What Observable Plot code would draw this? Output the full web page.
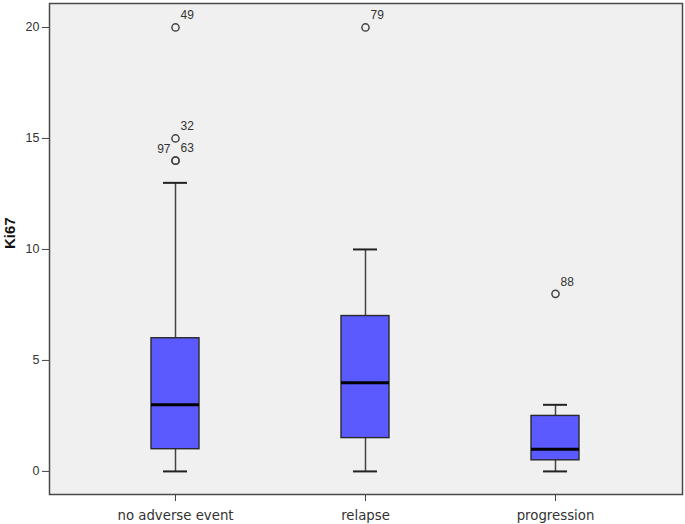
<!DOCTYPE html>
<html>
<head>
<meta charset="utf-8">
<script src="https://cdn.jsdelivr.net/npm/d3@7"></script>
<script src="https://cdn.jsdelivr.net/npm/@observablehq/plot@0.6"></script>
<style>
  html, body { margin: 0; padding: 0; background: white; }
</style>
</head>
<body>
<div id="chart"></div>
<script>
// Categories and box summaries (Ki67)
const categories = ["no adverse event", "relapse", "progression"];
const whiskerLow = [0, 0, 0];
const q1 = [1, 1.5, 0.5];
const median = [3, 4, 1];
const q3 = [6, 7, 2.5];
const whiskerHigh = [13, 10, 3];

// Outliers (case numbers)
const outlierGroup = ["no adverse event", "no adverse event", "no adverse event", "no adverse event", "relapse", "progression"];
const outlierValue = [20, 15, 14, 14, 20, 8];
const outlierCase = ["49", "32", "97", "63", "79", "88"];

const yTicks = [0, 5, 10, 15, 20];

const boxes = categories.map((c, i) => ({
  cat: c, lo: whiskerLow[i], q1: q1[i], med: median[i], q3: q3[i], hi: whiskerHigh[i]
}));

const outliers = outlierGroup.map((g, i) => ({cat: g, value: outlierValue[i], id: outlierCase[i]}));
// when several cases share one point, the first label goes to the left
const seen = new Map();
const counts = d3.rollup(outliers, v => v.length, d => d.cat + "|" + d.value);
outliers.forEach(d => {
  const k = d.cat + "|" + d.value;
  const n = seen.get(k) || 0;
  seen.set(k, n + 1);
  d.left = counts.get(k) > 1 && n === 0;
});

const chart = Plot.plot({
  width: 685,
  height: 524,
  marginLeft: 49,
  marginRight: 3,
  marginTop: 3,
  marginBottom: 30,
  style: {fontFamily: "Liberation Sans, Arial, sans-serif", fontSize: "12px", color: "#333", background: "white"},
  x: {domain: categories, paddingInner: 0.747, paddingOuter: 0.539},
  y: {domain: [-1.04, 21.08]},
  marks: [
    Plot.frame({fill: "#f0f0f0"}),
    Plot.axisY({ticks: yTicks, tickSize: 7, tickPadding: 3, label: null, fontSize: 12.5, stroke: "#444", fill: "#333"}),
    Plot.axisX({tickSize: 7, tickPadding: 9, label: null, fontSize: 13.3, fontFamily: "DejaVu Sans", stroke: "#444", fill: "#333"}),
    Plot.text(["Ki67"], {frameAnchor: "left", rotate: -90, dx: -39, fontWeight: "bold", fontSize: 15, fill: "#111"}),
    Plot.ruleX(boxes, {x: "cat", y1: "q3", y2: "hi", stroke: "#444", strokeWidth: 1.5}),
    Plot.ruleX(boxes, {x: "cat", y1: "lo", y2: "q1", stroke: "#444", strokeWidth: 1.5}),
    Plot.tickY(boxes, {x: "cat", y: "hi", inset: 12, stroke: "#222", strokeWidth: 2}),
    Plot.tickY(boxes, {x: "cat", y: "lo", inset: 12, stroke: "#222", strokeWidth: 2}),
    Plot.barY(boxes, {x: "cat", y1: "q1", y2: "q3", fill: "#5a5aff", stroke: "#2a2a2a", strokeWidth: 1.4}),
    Plot.tickY(boxes, {x: "cat", y: "med", stroke: "#000", strokeWidth: 3}),
    Plot.dot(outliers, {x: "cat", y: "value", r: 3.6, stroke: "#444", strokeWidth: 1.5, fill: "none"}),
    Plot.text(outliers.filter(d => !d.left), {x: "cat", y: "value", text: "id", textAnchor: "start", dx: 5, dy: -12, fontSize: 12, fill: "#333"}),
    Plot.text(outliers.filter(d => d.left), {x: "cat", y: "value", text: "id", textAnchor: "end", dx: -5, dy: -11, fontSize: 12, fill: "#333"}),
    Plot.frame({stroke: "#4a4a4a", strokeWidth: 1.5})
  ]
});

document.getElementById("chart").appendChild(chart);
</script>
</body>
</html>
